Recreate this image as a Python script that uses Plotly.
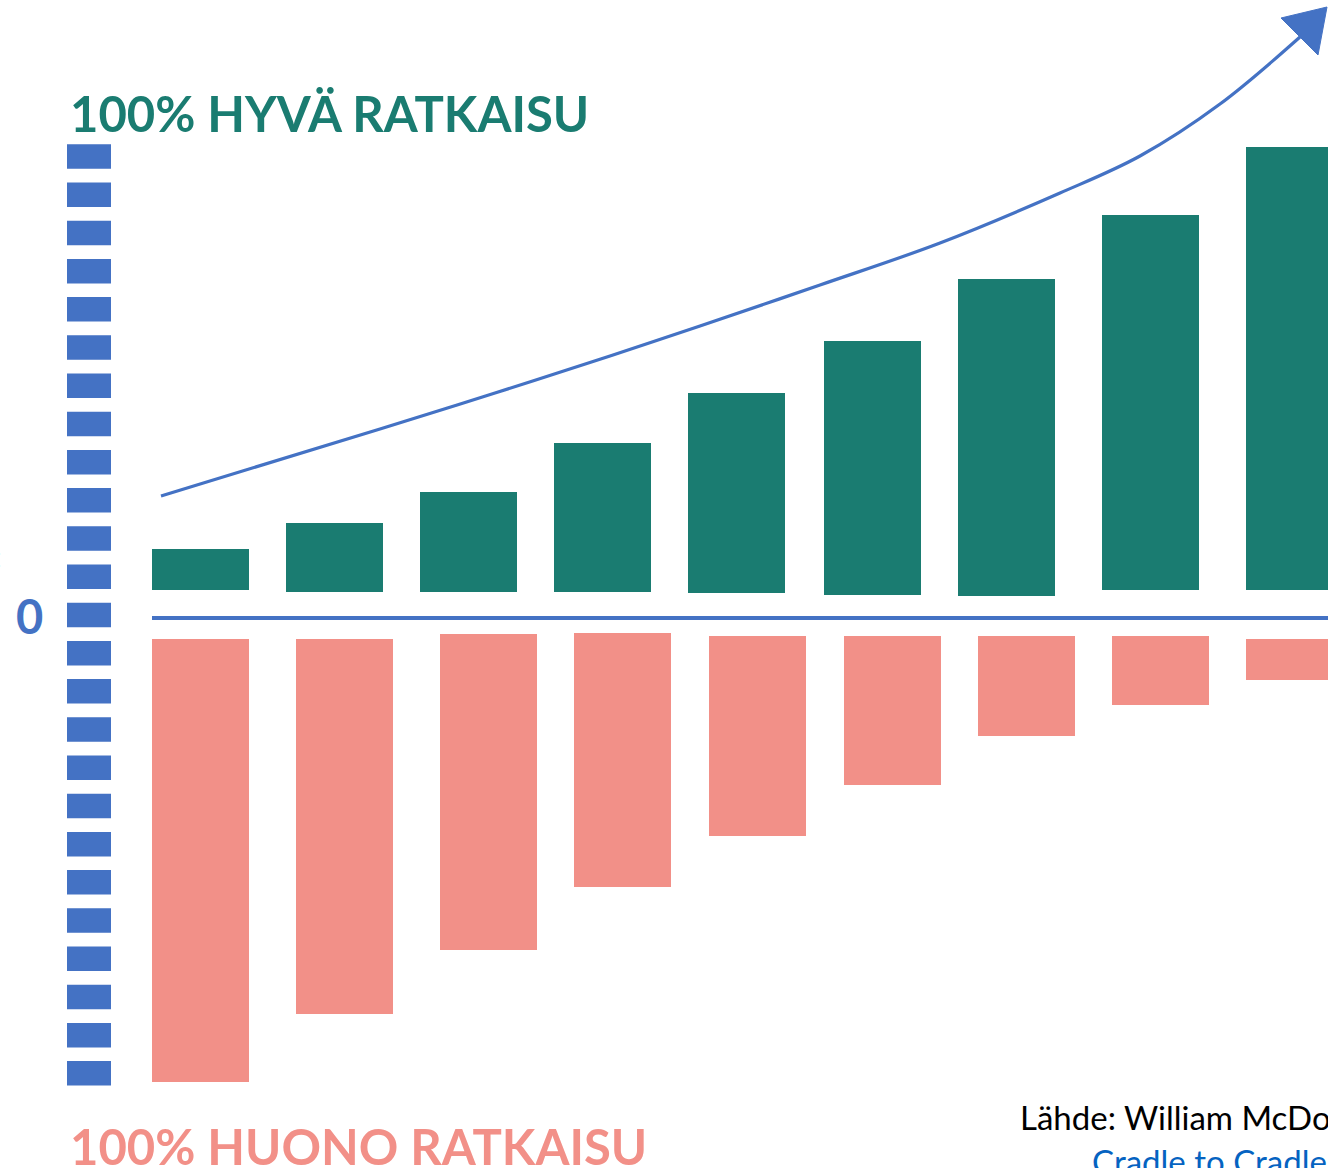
import plotly.graph_objects as go

W, H = 1328, 1168
ZERO_PX = 618  # pixel row of the zero line

# ---- data (values measured upward from the zero line) ----
green_x = [200.5, 334.5, 468.5, 602.5, 736.5, 872.5, 1006.5, 1150.5, 1294.5]
green_top = [69, 95, 126, 175, 225, 277, 339, 403, 471]
green_bottom = [28, 26, 26, 26, 25, 23, 22, 28, 28]

pink_x = [200.5, 344.5, 488.5, 622.5, 757.5, 892.5, 1026.5, 1160.5, 1294.5]
pink_top = [-21, -21, -16, -15, -18, -18, -18, -18, -21]
pink_bottom = [-464, -396, -332, -269, -218, -167, -118, -87, -62]

# rising trend arrow (x, value)
trend_x = [161, 380, 495, 610, 700, 820, 940, 1060, 1140, 1220, 1300]
trend_v = [122, 189, 225, 262, 292, 333, 375, 425, 462, 514, 581]
head_x = [1281, 1327, 1318, 1281]
head_v = [600, 611, 563, 600]

scale_x = [89, 89]
scale_v = [473.7, -468.7]

zero_x = [152, 1328]
zero_v = [0, 0]

TEAL = "#1A7C71"
PINK = "#F29088"
BLUE = "#4472C4"

fig = go.Figure()

fig.add_trace(go.Bar(
    x=green_x, y=[t - b for t, b in zip(green_top, green_bottom)], base=green_bottom,
    width=97, marker=dict(color=TEAL, line=dict(width=0)), hoverinfo="skip"))
fig.add_trace(go.Bar(
    x=pink_x, y=[t - b for t, b in zip(pink_top, pink_bottom)], base=pink_bottom,
    width=97, marker=dict(color=PINK, line=dict(width=0)), hoverinfo="skip"))

fig.add_trace(go.Scatter(x=zero_x, y=zero_v, mode="lines",
                         line=dict(color=BLUE, width=4), hoverinfo="skip"))
fig.add_trace(go.Scatter(x=scale_x, y=scale_v, mode="lines",
                         line=dict(color=BLUE, width=44, dash="24.5px,13.7px"),
                         hoverinfo="skip"))
fig.add_trace(go.Scatter(x=trend_x, y=trend_v, mode="lines",
                         line=dict(color=BLUE, width=3.2, shape="spline", smoothing=1.0),
                         hoverinfo="skip"))
fig.add_trace(go.Scatter(x=head_x, y=head_v, mode="lines", fill="toself",
                         fillcolor=BLUE, line=dict(color=BLUE, width=1),
                         hoverinfo="skip"))


def px(xp):
    return xp / W


def py(yp):
    return 1 - yp / H


FONT = "Lato, 'Open Sans', sans-serif"
annotations = [
    dict(text="<b>100% HYVÄ RATKAISU</b>", x=px(68), y=py(113), xanchor="left", yanchor="middle",
         font=dict(family=FONT, size=49, color=TEAL)),
    dict(text="<b>100% HUONO RATKAISU</b>", x=px(68), y=py(1146), xanchor="left", yanchor="middle",
         font=dict(family=FONT, size=49, color=PINK)),
    dict(text="<b>0</b>", x=px(29), y=py(616), xanchor="center", yanchor="middle",
         font=dict(family=FONT, size=47, color=BLUE)),
    dict(text=":", x=px(4), y=py(556), xanchor="right", yanchor="middle",
         font=dict(family=FONT, size=30, color="black")),
    dict(text="Lähde: William McDonough", x=px(1018), y=py(1117), xanchor="left", yanchor="middle",
         font=dict(family=FONT, size=33, color="black")),
    dict(text="Cradle to Cradle:", x=px(1090), y=py(1161), xanchor="left", yanchor="middle",
         font=dict(family=FONT, size=33, color="#0563C1")),
]
for a in annotations:
    a.update(xref="paper", yref="paper", showarrow=False)

fig.update_layout(
    width=W, height=H,
    margin=dict(l=0, r=0, t=0, b=0),
    paper_bgcolor="white", plot_bgcolor="white",
    barmode="overlay", showlegend=False,
    xaxis=dict(range=[0, W], visible=False, fixedrange=True),
    yaxis=dict(range=[ZERO_PX - H, ZERO_PX], visible=False, fixedrange=True),
    annotations=annotations,
)

fig.write_html(
    "out.html",
    config={"displayModeBar": False},
    post_script="document.body.style.margin='0';document.body.style.overflow='hidden';",
)
